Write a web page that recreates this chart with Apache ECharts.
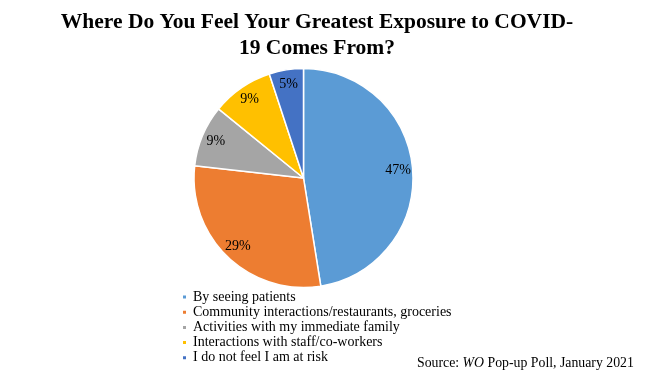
<!DOCTYPE html>
<html><head><meta charset="utf-8">
<script src="https://cdn.jsdelivr.net/npm/echarts@6/dist/echarts.min.js"></script>
<style>html,body{margin:0;padding:0;background:#fff}#c{width:650px;height:371px}</style>
</head><body><div id="c"></div>
<script>
const categories = ['By seeing patients','Community interactions/restaurants, groceries','Activities with my immediate family','Interactions with staff/co-workers','I do not feel I am at risk'];
const values = [47, 29, 9, 9, 5];
const colors = ['#5B9BD5','#ED7D31','#A5A5A5','#FFC000','#4472C4'];
const titleLines = ['Where Do You Feel Your Greatest Exposure to COVID-', '19 Comes From?'];

const data = categories.map((n,i)=>({name:n, value:values[i], itemStyle:{color:colors[i]}}));
const chart = echarts.init(document.getElementById('c'));
const serif = '"Liberation Serif","Times New Roman",serif';
chart.setOption({
  animation:false,
  backgroundColor:'#fff',
  legend:{
    orient:'vertical', left:181, top:290, height:90, padding:0,
    itemWidth:5, itemHeight:5, itemGap:1.2,
    icon:'rect',
    data:categories,
    textStyle:{fontFamily:serif, fontSize:14, color:'#000', lineHeight:14, padding:[0,0,0,1]}
  },
  graphic:[
    {type:'text', x:317, y:9, style:{text:titleLines.join('\n'), font:'bold 21.5px '+serif, fill:'#000', align:'center', verticalAlign:'top', lineHeight:26}},
    {type:'text', left:417, top:356, style:{rich:{a:{fontFamily:serif,fontSize:13.8,fill:'#000'},i:{fontFamily:serif,fontSize:13.8,fontStyle:'italic',fill:'#000'}}, text:'{a|Source: }{i|WO}{a| Pop-up Poll, January 2021}'}}
  ],
  series:[
    {type:'pie', center:[303.5,178], radius:[0,109.5], startAngle:90, clockwise:true,
     data:data, label:{show:false}, labelLine:{show:false},
     itemStyle:{borderColor:'#fff', borderWidth:1.5}, emphasis:{disabled:true}},
    {type:'pie', center:[303.5,178], radius:[0,184], startAngle:90, clockwise:true, silent:true,
     data:data.map(d=>({name:d.name,value:d.value,itemStyle:{color:'rgba(0,0,0,0)'}})),
     itemStyle:{borderWidth:0},
     label:{show:true, position:'inside', formatter:'{c}%', fontFamily:serif, fontSize:14, color:'#000'},
     labelLine:{show:false}, emphasis:{disabled:true}, z:3}
  ]
});
</script></body></html>
